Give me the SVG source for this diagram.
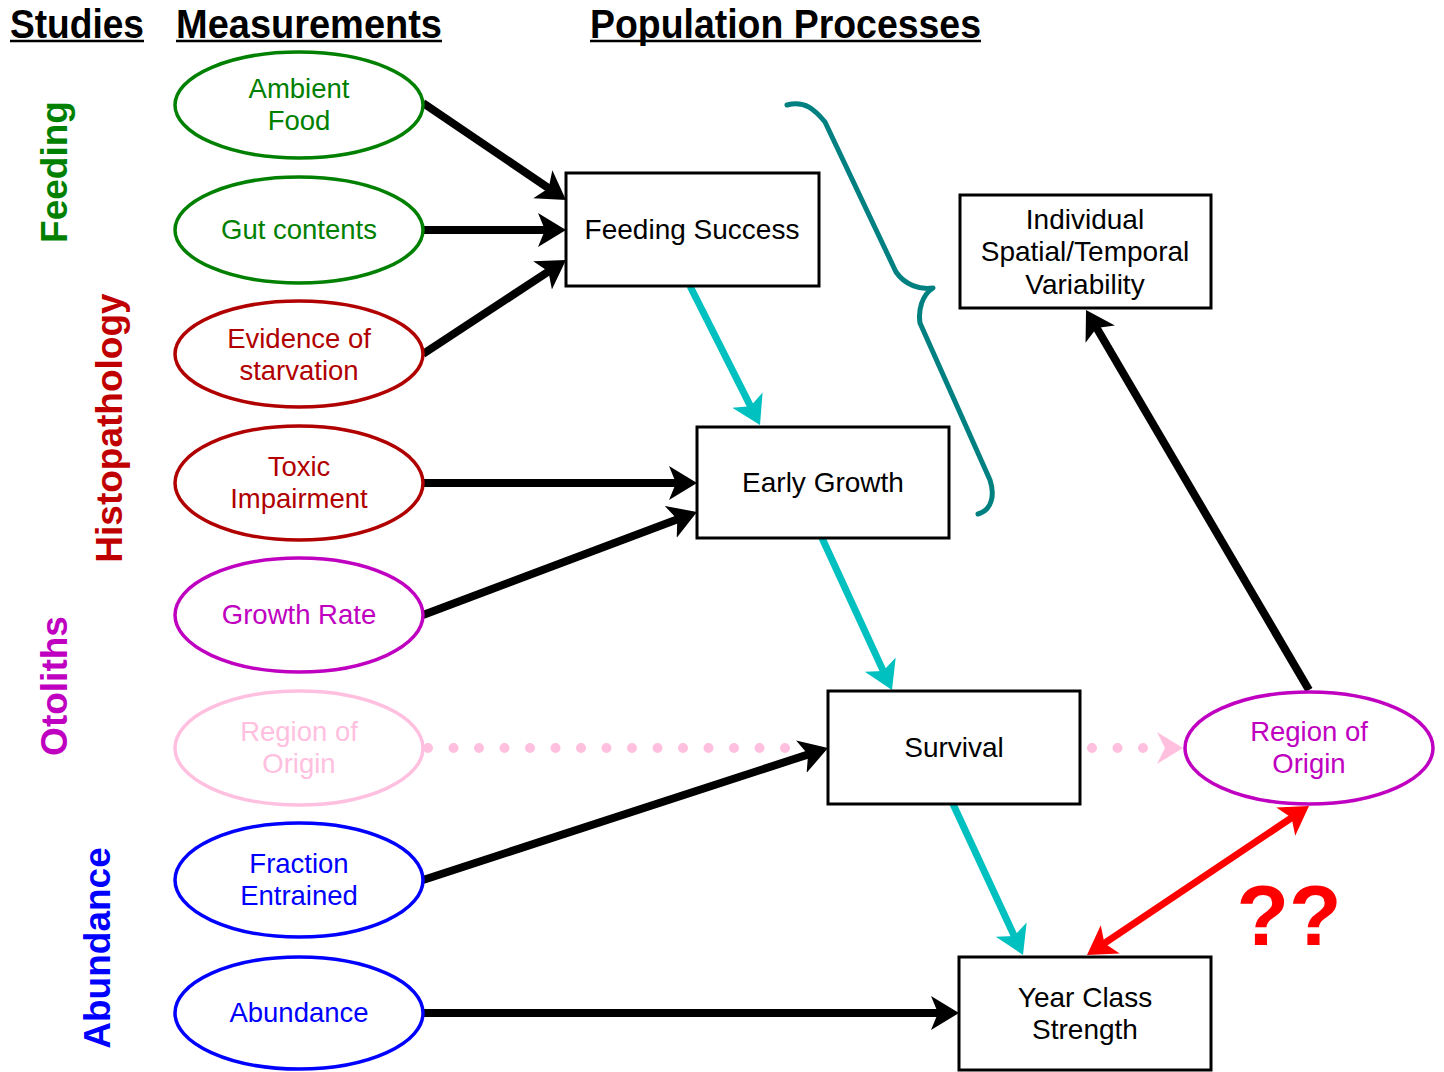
<svg xmlns="http://www.w3.org/2000/svg" width="1444" height="1072" viewBox="0 0 1444 1072">
<style>
.hdr{font-family:"Liberation Sans Narrow","Liberation Sans",Arial,sans-serif;font-weight:bold;font-size:40px;fill:#000}
.hl{stroke:#000;stroke-width:2.5}
.vl{font-family:"Liberation Sans",Arial,sans-serif;font-weight:bold;font-size:37px;text-anchor:middle}
.t{font-family:"Liberation Sans",Arial,sans-serif;font-size:27.5px;text-anchor:middle}
.bt{font-family:"Liberation Sans",Arial,sans-serif;font-size:28px;text-anchor:middle;fill:#000}
.el{fill:#fff;stroke-width:3.5}
.box{fill:#fff;stroke:#000;stroke-width:3}
.blk{stroke:#000;stroke-width:8;fill:none}
.cy{stroke:#00c0c0;stroke-width:7;fill:none}
.rd{stroke:#ff0000;stroke-width:7;fill:none}
</style>
<defs>
<marker id="ab" markerUnits="userSpaceOnUse" markerWidth="32" markerHeight="36" viewBox="0 0 32 36" refX="18" refY="18" orient="auto"><path d="M0,1 L28,18 L0,35 L7,18 z" fill="#000"/></marker>
<marker id="ac" markerUnits="userSpaceOnUse" markerWidth="32" markerHeight="36" viewBox="0 0 32 36" refX="18" refY="18" orient="auto"><path d="M0,1 L28,18 L0,35 L7,18 z" fill="#00c0c0"/></marker>
<marker id="ar" markerUnits="userSpaceOnUse" markerWidth="32" markerHeight="36" viewBox="0 0 32 36" refX="18" refY="18" orient="auto-start-reverse"><path d="M0,1 L28,18 L0,35 L7,18 z" fill="#ff0000"/></marker>
</defs>

<g id="headers">
<text class="hdr" x="10" y="38" textLength="134" lengthAdjust="spacingAndGlyphs">Studies</text>
<line class="hl" x1="10" y1="41" x2="144" y2="41"/>
<text class="hdr" x="176" y="38" textLength="266" lengthAdjust="spacingAndGlyphs">Measurements</text>
<line class="hl" x1="176" y1="41" x2="442" y2="41"/>
<text class="hdr" x="590" y="38" textLength="391" lengthAdjust="spacingAndGlyphs">Population Processes</text>
<line class="hl" x1="590" y1="41" x2="981" y2="41"/>
</g>

<g id="study-labels">
<text class="vl" fill="#008000" transform="translate(67,172) rotate(-90)">Feeding</text>
<text class="vl" fill="#c00000" transform="translate(122,428) rotate(-90)">Histopathology</text>
<text class="vl" fill="#c000c0" transform="translate(67,686) rotate(-90)">Otoliths</text>
<text class="vl" fill="#0000ff" transform="translate(110,948) rotate(-90)">Abundance</text>
</g>

<g id="connectors">
<line class="blk" x1="423" y1="103" x2="557.7" y2="194.4" marker-end="url(#ab)"/>
<line class="blk" x1="423" y1="230" x2="556" y2="230" marker-end="url(#ab)"/>
<line class="blk" x1="423" y1="354" x2="557.6" y2="265.5" marker-end="url(#ab)"/>
<line class="blk" x1="423" y1="483" x2="687" y2="483" marker-end="url(#ab)"/>
<line class="blk" x1="423" y1="615" x2="687.6" y2="515.5" marker-end="url(#ab)"/>
<line stroke="#ffc0e0" stroke-width="10" stroke-linecap="round" stroke-dasharray="0 25.5" x1="428" y1="748" x2="790" y2="748"/>
<line class="blk" x1="423" y1="880" x2="818.5" y2="751.1" marker-end="url(#ab)"/>
<line class="blk" x1="423" y1="1013" x2="949" y2="1013" marker-end="url(#ab)"/>
<line class="blk" x1="1309" y1="690" x2="1091.1" y2="318.6" marker-end="url(#ab)"/>
<line class="cy" x1="690" y1="286" x2="755.5" y2="416.1" marker-end="url(#ac)"/>
<line class="cy" x1="822" y1="538" x2="887.8" y2="680.9" marker-end="url(#ac)"/>
<line class="cy" x1="953" y1="804" x2="1018.8" y2="945.9" marker-end="url(#ac)"/>
<line class="rd" x1="1095.3" y1="949.4" x2="1300.7" y2="811.6" marker-start="url(#ar)" marker-end="url(#ar)"/>
<line stroke="#ffc0e0" stroke-width="10" stroke-linecap="round" stroke-dasharray="0 25.5" x1="1092" y1="748" x2="1144" y2="748"/>
<path d="M1183,748 L1157,732 L1165,748 L1157,764 z" fill="#ffc0e0"/>
<path d="M787,105 C805,100 815,110 825,122 L896,272 C905,285 920,290 933,288 C922,295 918,310 920,323 L990,480 C995,495 992,510 978,514" fill="none" stroke="#008080" stroke-width="5" stroke-linecap="round" stroke-linejoin="round"/>
</g>

<g id="ambient-food">
<ellipse class="el" stroke="#008000" cx="299" cy="105" rx="124" ry="53"/>
<text class="t" fill="#008000" x="299" y="98">Ambient</text>
<text class="t" fill="#008000" x="299" y="130">Food</text>
</g>
<g id="gut-contents">
<ellipse class="el" stroke="#008000" cx="299" cy="230" rx="124" ry="53"/>
<text class="t" fill="#008000" x="299" y="239">Gut contents</text>
</g>
<g id="evidence-starvation">
<ellipse class="el" stroke="#b00000" cx="299" cy="354" rx="124" ry="53"/>
<text class="t" fill="#b00000" x="299" y="348">Evidence of</text>
<text class="t" fill="#b00000" x="299" y="380">starvation</text>
</g>
<g id="toxic-impairment">
<ellipse class="el" stroke="#b00000" cx="299" cy="483" rx="124" ry="57"/>
<text class="t" fill="#b00000" x="299" y="476">Toxic</text>
<text class="t" fill="#b00000" x="299" y="508">Impairment</text>
</g>
<g id="growth-rate">
<ellipse class="el" stroke="#c000c0" cx="299" cy="615" rx="124" ry="57"/>
<text class="t" fill="#c000c0" x="299" y="624">Growth Rate</text>
</g>
<g id="region-origin-left">
<ellipse class="el" stroke="#ffc0e0" cx="299" cy="748" rx="124" ry="57"/>
<text class="t" fill="#ffc0e0" x="299" y="741">Region of</text>
<text class="t" fill="#ffc0e0" x="299" y="773">Origin</text>
</g>
<g id="fraction-entrained">
<ellipse class="el" stroke="#0000ff" cx="299" cy="880" rx="124" ry="57"/>
<text class="t" fill="#0000ff" x="299" y="873">Fraction</text>
<text class="t" fill="#0000ff" x="299" y="905">Entrained</text>
</g>
<g id="abundance">
<ellipse class="el" stroke="#0000ff" cx="299" cy="1013" rx="124" ry="56"/>
<text class="t" fill="#0000ff" x="299" y="1022">Abundance</text>
</g>

<g id="feeding-success">
<rect class="box" x="566" y="173" width="253" height="113"/>
<text class="bt" x="692" y="239">Feeding Success</text>
</g>
<g id="early-growth">
<rect class="box" x="697" y="427" width="252" height="111"/>
<text class="bt" x="823" y="492">Early Growth</text>
</g>
<g id="survival">
<rect class="box" x="828" y="691" width="252" height="113"/>
<text class="bt" x="954" y="757">Survival</text>
</g>
<g id="year-class-strength">
<rect class="box" x="959" y="957" width="252" height="113"/>
<text class="bt" x="1085" y="1007">Year Class</text>
<text class="bt" x="1085" y="1039">Strength</text>
</g>
<g id="individual-variability">
<rect class="box" x="960" y="195" width="251" height="113"/>
<text class="bt" x="1085" y="229">Individual</text>
<text class="bt" x="1085" y="261">Spatial/Temporal</text>
<text class="bt" x="1085" y="294">Variability</text>
</g>
<g id="region-origin-right">
<ellipse class="el" stroke="#c000c0" cx="1309" cy="748" rx="124" ry="56"/>
<text class="t" fill="#c000c0" x="1309" y="741">Region of</text>
<text class="t" fill="#c000c0" x="1309" y="773">Origin</text>
</g>
<g id="question-marks">
<text x="1289" y="945" font-family="Liberation Sans, Arial, sans-serif" font-weight="bold" font-size="86" fill="#ff0000" text-anchor="middle">??</text>
</g>
</svg>
